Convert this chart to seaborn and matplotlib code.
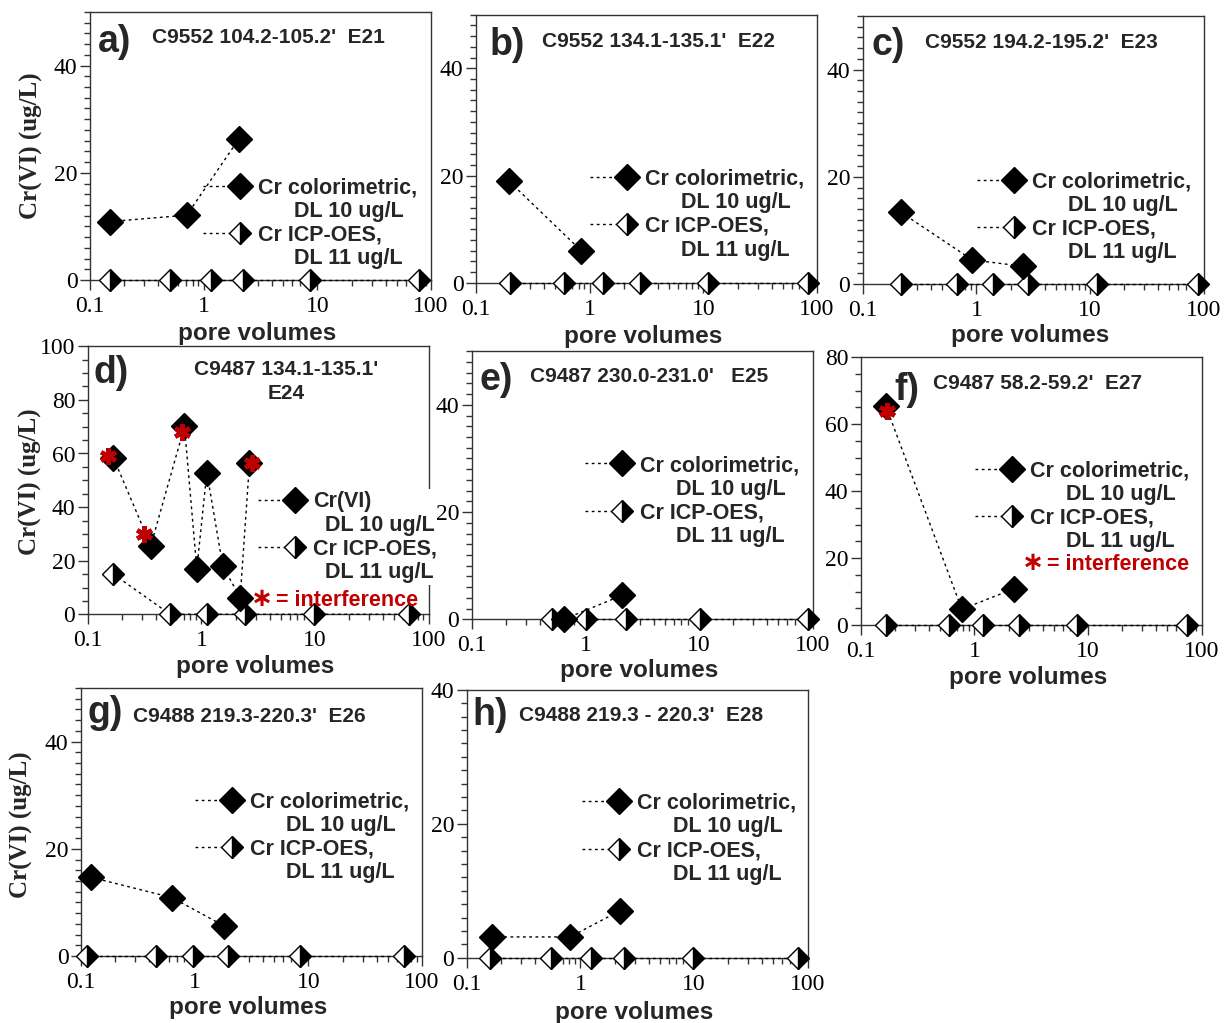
import numpy as np
import pandas as pd
import matplotlib
matplotlib.use("Agg")
import matplotlib.pyplot as plt
import seaborn as sns
from matplotlib.lines import Line2D
from matplotlib.legend_handler import HandlerBase
from matplotlib.ticker import MultipleLocator, LogLocator, NullFormatter

# ---------------- data ----------------
x_tick_values = [0.1, 1, 10, 100]
x_tick_labels = ["0.1", "1", "10", "100"]

a_col_x = [0.15, 0.71, 2.04]
a_col_y = [10.9, 12.1, 26.3]
a_icp_x = [0.15, 0.51, 1.15, 2.21, 8.7, 78.9]
a_icp_y = [0, 0, 0, 0, 0, 0]

b_col_x = [0.196, 0.84]
b_col_y = [18.9, 6.0]
b_icp_x = [0.20, 0.59, 1.32, 2.77, 11.0, 83.4]
b_icp_y = [0, 0, 0, 0, 0, 0]

c_col_x = [0.216, 0.92, 2.58]
c_col_y = [13.4, 4.5, 3.3]
c_icp_x = [0.216, 0.67, 1.39, 2.86, 11.6, 89.0]
c_icp_y = [0, 0, 0, 0, 0, 0]

d_col_x = [0.168, 0.359, 0.71, 0.912, 1.117, 1.545, 2.195, 2.65]
d_col_y = [58.5, 25.6, 70.1, 16.9, 52.9, 17.9, 6.25, 56.4]
d_icp_x = [0.168, 0.531, 1.117, 2.43, 9.7, 66.6]
d_icp_y = [15.0, 0, 0, 0, 0, 0]
d_int_x = [0.152, 0.313, 0.672, 2.78]
d_int_y = [59.1, 30.1, 68.1, 56.4]

e_col_x = [0.647, 2.12]
e_col_y = [0.0, 4.5]
e_icp_x = [0.504, 1.02, 2.30, 10.1, 90.3]
e_icp_y = [0, 0, 0, 0, 0]

f_col_x = [0.166, 0.776, 2.22]
f_col_y = [65.5, 4.7, 10.8]
f_icp_x = [0.166, 0.593, 1.19, 2.45, 8.0, 74.8]
f_icp_y = [0, 0, 0, 0, 0, 0]
f_int_x = [0.169]
f_int_y = [64.0]

g_col_x = [0.122, 0.63, 1.82]
g_col_y = [14.7, 10.9, 5.6]
g_icp_x = [0.114, 0.454, 0.962, 1.98, 8.48, 69.8]
g_icp_y = [0, 0, 0, 0, 0, 0]

h_col_x = [0.166, 0.81, 2.22]
h_col_y = [3.1, 3.1, 7.0]
h_icp_x = [0.16, 0.557, 1.25, 2.42, 9.77, 81.7]
h_icp_y = [0, 0, 0, 0, 0, 0]

panel_letters = ["a)", "b)", "c)", "d)", "e)", "f)", "g)", "h)"]
panel_titles = [
    "C9552 104.2-105.2'  E21",
    "C9552 134.1-135.1'  E22",
    "C9552 194.2-195.2'  E23",
    "C9487 134.1-135.1'\nE24",
    "C9487 230.0-231.0'   E25",
    "C9487 58.2-59.2'  E27",
    "C9488 219.3-220.3'  E26",
    "C9488 219.3 - 220.3'  E28",
]
y_max_values = [50, 50, 50, 100, 50, 80, 50, 40]
y_minor_steps = [2, 2, 2, 5, 2, 5, 2, 2]

col_label = "Cr colorimetric,"
col_label_d = "Cr(VI)"
dl10_label = "DL 10 ug/L"
icp_label = "Cr ICP-OES,"
dl11_label = "DL 11 ug/L"
interference_label = "= interference"
x_label = "pore volumes"
y_label = "Cr(VI) (ug/L)"

# ---------------- styles / layout ----------------
sns.set_theme(style="ticks")
SANS = ["Liberation Sans", "DejaVu Sans"]
SERIF = ["Liberation Serif", "DejaVu Serif"]
plt.rcParams["font.family"] = SERIF
plt.rcParams["xtick.labelsize"] = 17
plt.rcParams["ytick.labelsize"] = 17
plt.rcParams["axes.linewidth"] = 1.0
plt.rcParams["axes.edgecolor"] = "#333333"

RED = "#c00000"
DOT = (0, (2.0, 2.5))
COL_STYLE = dict(marker="D", markersize=13.3, markerfacecolor="black",
                 markeredgecolor="black", markeredgewidth=1.0)
ICP_STYLE = dict(marker="D", markersize=11.3, fillstyle="right",
                 markerfacecolor="black", markerfacecoloralt="white",
                 markeredgecolor="black", markeredgewidth=1.0)

FW, FH = 1225, 1023
AW, AH = 341, 268


class KeyHandler(HandlerBase):
    def __init__(self, style):
        super().__init__()
        self.style = style

    def create_artists(self, legend, orig_handle, xdescent, ydescent,
                       width, height, fontsize, trans):
        y = (height - ydescent) / 2.0
        x0, x1 = -xdescent, -xdescent + width
        if self.style is None:
            a = Line2D([x0], [y], linestyle="none", marker="None")
            a.set_transform(trans)
            return [a]
        ln = Line2D([x0, x1], [y, y], color="black", linestyle=DOT, linewidth=1.0)
        mk = Line2D([x1], [y], linestyle="none", **self.style)
        ln.set_transform(trans)
        mk.set_transform(trans)
        return [ln, mk]


panels = [
    dict(L=90, B=280, col=(a_col_x, a_col_y), icp=(a_icp_x, a_icp_y), ylab=(-0.138, 0.5),
         xlab=-0.157, letter=(0.023, 0.852), title=(0.182, 0.885), leg=(0.331, 0.354),
         indent=6, frame=False),
    dict(L=476, B=282.7, col=(b_col_x, b_col_y), icp=(b_icp_x, b_icp_y), ylab=None,
         xlab=-0.157, letter=(0.041, 0.85), title=(0.193, 0.881), leg=(0.334, 0.396),
         indent=6, frame=False),
    dict(L=862.7, B=284, col=(c_col_x, c_col_y), icp=(c_icp_x, c_icp_y), ylab=None,
         xlab=-0.148, letter=(0.026, 0.854), title=(0.182, 0.879), leg=(0.334, 0.392),
         indent=6, frame=False),
    dict(L=87.7, B=614.3, col=(d_col_x, d_col_y), icp=(d_icp_x, d_icp_y), ylab=(-0.135, 0.495),
         xlab=-0.150, letter=(0.018, 0.862), title=(0.581, 0.893), leg=(0.499, 0.430),
         indent=2, frame=True, interf=(d_int_x, d_int_y), interf_pos=(0.511, 0.552, 0.032)),
    dict(L=471.7, B=619.3, col=(e_col_x, e_col_y), icp=(e_icp_x, e_icp_y), ylab=None,
         xlab=-0.150, letter=(0.024, 0.856), title=(0.171, 0.887), leg=(0.332, 0.584),
         indent=6, frame=False),
    dict(L=860.7, B=625, col=(f_col_x, f_col_y), icp=(f_icp_x, f_icp_y), ylab=None,
         xlab=-0.153, letter=(0.10, 0.84), title=(0.212, 0.881), leg=(0.335, 0.585),
         indent=6, frame=False, interf=(f_int_x, f_int_y), interf_pos=(0.505, 0.546, 0.204)),
    dict(L=81, B=956, col=(g_col_x, g_col_y), icp=(g_icp_x, g_icp_y), ylab=(-0.14, 0.489),
         xlab=-0.150, letter=(0.018, 0.87), title=(0.152, 0.874), leg=(0.334, 0.585),
         indent=6, frame=False),
    dict(L=466.7, B=957.7, col=(h_col_x, h_col_y), icp=(h_icp_x, h_icp_y), ylab=None,
         xlab=-0.162, letter=(0.018, 0.868), title=(0.153, 0.884), leg=(0.337, 0.586),
         indent=6, frame=False),
]

fig = plt.figure(figsize=(FW / 100, FH / 100), dpi=100)

for i, p in enumerate(panels):
    ax = fig.add_axes([p["L"] / FW, 1 - p["B"] / FH, AW / FW, AH / FH])
    ax.set_facecolor("white")

    icp_df = pd.DataFrame({"pv": p["icp"][0], "cr": p["icp"][1]})
    col_df = pd.DataFrame({"pv": p["col"][0], "cr": p["col"][1]})

    sns.lineplot(data=icp_df, x="pv", y="cr", ax=ax, color="black", linestyle=DOT,
                 linewidth=1.0, estimator=None, sort=False, clip_on=False, zorder=3,
                 **ICP_STYLE)
    sns.lineplot(data=col_df, x="pv", y="cr", ax=ax, color="black", linestyle=DOT,
                 linewidth=1.0, estimator=None, sort=False, clip_on=False, zorder=4,
                 **COL_STYLE)
    if "interf" in p:
        int_df = pd.DataFrame({"pv": p["interf"][0], "cr": p["interf"][1]})
        sns.lineplot(data=int_df, x="pv", y="cr", ax=ax, color=RED, linestyle="none",
                     marker=(6, 2, 0), markersize=12, markeredgewidth=3.2,
                     markeredgecolor=RED, estimator=None, sort=False, clip_on=False,
                     zorder=5)

    ymax = y_max_values[i]
    ax.set_xscale("log")
    ax.set_xlim(0.1, 100)
    ax.set_ylim(0, ymax)
    ax.set_xticks(x_tick_values)
    ax.set_xticklabels(x_tick_labels)
    ax.xaxis.set_minor_locator(LogLocator(base=10, subs=np.arange(2, 10), numticks=20))
    ax.xaxis.set_minor_formatter(NullFormatter())
    yt = np.arange(0, ymax + 1, 20)
    ax.set_yticks(yt)
    ax.set_yticklabels([str(int(v)) for v in yt])
    ax.yaxis.set_minor_locator(MultipleLocator(y_minor_steps[i]))

    ax.tick_params(axis="both", which="both", direction="out", colors="#333333",
                   labelcolor="black", top=False, right=False)
    ax.tick_params(axis="both", which="major", length=7, width=1.0)
    ax.tick_params(axis="both", which="minor", length=4.6, width=1.0)
    ax.tick_params(axis="x", which="major", pad=4.5)
    ax.tick_params(axis="y", which="major", pad=2)
    for lab in ax.get_xticklabels() + ax.get_yticklabels():
        lab.set_fontfamily(SERIF)
        lab.set_fontsize(17)
    for s in ax.spines.values():
        s.set_linewidth(1.0)
        s.set_color("#333333")

    ax.set_xlabel(x_label, fontsize=17.5, fontweight="bold", family=SANS)
    ax.xaxis.set_label_coords(0.49, p["xlab"])
    if p["ylab"] is not None:
        ax.set_ylabel(y_label, fontsize=18, fontweight="bold", family=SERIF)
        ax.yaxis.set_label_coords(*p["ylab"])
    else:
        ax.set_ylabel("")

    # letter and title
    ax.text(p["letter"][0], p["letter"][1], panel_letters[i], transform=ax.transAxes,
            fontsize=27, fontweight="bold", family=SANS, ha="left", va="baseline", zorder=6)
    if "\n" in panel_titles[i]:
        l1, l2 = panel_titles[i].split("\n")
        ax.text(p["title"][0], p["title"][1], l1, transform=ax.transAxes, fontsize=15,
                fontweight="bold", family=SANS, ha="center", va="baseline", zorder=6)
        ax.text(p["title"][0], 0.804, l2, transform=ax.transAxes, fontsize=15,
                fontweight="bold", family=SANS, ha="center", va="baseline", zorder=6)
    else:
        ax.text(p["title"][0], p["title"][1], panel_titles[i], transform=ax.transAxes,
                fontsize=15, fontweight="bold", family=SANS, ha="left", va="baseline",
                zorder=6)

    # legend
    h1, h2, h3, h4 = Line2D([], []), Line2D([], []), Line2D([], []), Line2D([], [])
    pad = " " * p["indent"]
    first = col_label_d if i == 3 else col_label
    labels = [first, pad + dl10_label, icp_label, pad + dl11_label]
    hmap = {h1: KeyHandler(COL_STYLE), h2: KeyHandler(None),
            h3: KeyHandler(ICP_STYLE), h4: KeyHandler(None)}
    leg = ax.legend([h1, h2, h3, h4], labels, handler_map=hmap,
                    prop=dict(family=SANS, weight="bold", size=15.5),
                    handlelength=1.72, handletextpad=0.84, handleheight=0.7,
                    labelspacing=0.12, borderpad=0.1, borderaxespad=0,
                    loc="upper left",
                    bbox_to_anchor=(p["leg"][0] - 0.006, p["leg"][1] + 0.037),
                    bbox_transform=ax.transAxes, frameon=p["frame"], fancybox=False)
    if p["frame"]:
        leg.get_frame().set_facecolor("white")
        leg.get_frame().set_edgecolor("none")
        leg.get_frame().set_alpha(1.0)

    if "interf_pos" in p:
        sx, tx, by = p["interf_pos"]
        ax.text(sx, by, "\u2217", transform=ax.transAxes, color=RED, fontsize=19,
                fontweight="bold", family=["DejaVu Sans"], ha="center", va="baseline",
                zorder=7)
        ax.text(tx, by, interference_label, transform=ax.transAxes, color=RED,
                fontsize=15.5, fontweight="bold", family=SANS, ha="left", va="baseline",
                zorder=7)

fig.savefig("out.png", dpi=100)
